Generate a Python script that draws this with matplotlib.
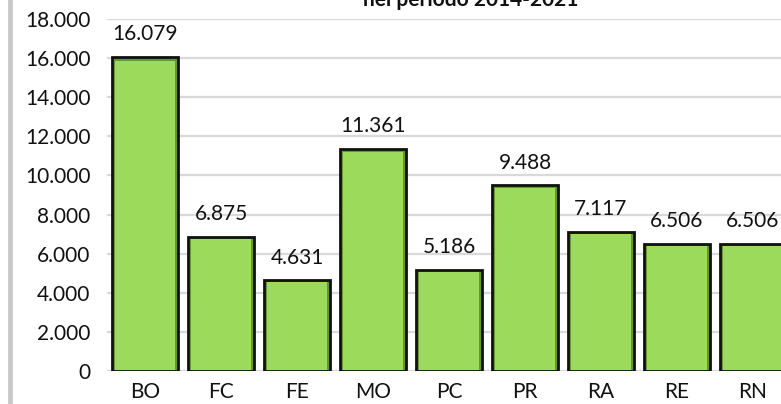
import matplotlib
matplotlib.use("Agg")
import matplotlib.pyplot as plt
from matplotlib.lines import Line2D

# data
categories = ["BO", "FC", "FE", "MO", "PC", "PR", "RA", "RE", "RN"]
values = [16079, 6875, 4631, 11361, 5186, 9488, 7117, 6506, 6506]
labels = ["16.079", "6.875", "4.631", "11.361", "5.186", "9.488", "7.117", "6.506", "6.506"]
yticks = [0, 2000, 4000, 6000, 8000, 10000, 12000, 14000, 16000, 18000]
yticklabels = ["0", "2.000", "4.000", "6.000", "8.000", "10.000", "12.000", "14.000", "16.000", "18.000"]

plt.rcParams['font.family'] = ['Lato', 'DejaVu Sans']

fig = plt.figure(figsize=(7.81, 4.04), dpi=100)
ax = fig.add_axes([107/781, 33/404, 684/781, 352/404])

x = list(range(len(categories)))
# darker rim, lighter face, black outline -> rough bevel look
ax.bar(x, values, width=0.86, color="#5f9a2c", edgecolor="none", zorder=3)
ax.bar(x, [v * 0.985 for v in values], width=0.78, color="#9bda5a", edgecolor="none", zorder=4)
ax.bar(x, values, width=0.86, color="none", edgecolor="#111111", linewidth=2, zorder=5)

for xi, v, lab in zip(x, values, labels):
    ax.annotate(lab, (xi, v), xytext=(0, 9), textcoords="offset points",
                ha="center", va="bottom", fontsize=15, color="#111111", zorder=6)

ax.set_xlim(-0.5, len(categories) - 0.5)
ax.set_ylim(0, 18000)
ax.set_yticks(yticks)
ax.set_yticklabels(yticklabels, fontsize=15)
ax.set_xticks(x)
ax.set_xticklabels(categories, fontsize=15)
ax.tick_params(axis="both", length=0, pad=8, colors="#111111")
ax.tick_params(axis="y", pad=12)
ax.yaxis.grid(True, color="#d9d9d9", linewidth=1.6, zorder=0)
ax.set_axisbelow(True)
for s in ax.spines.values():
    s.set_visible(False)

# title, mostly cropped at the top like in the source
fig.text(471/781, 1 - 6/404, "nel periodo 2014-2021", ha="center", va="baseline",
         fontsize=15, fontweight="bold", color="#111111")

# grey frame edge on the left
fig.add_artist(Line2D([10/781, 10/781], [0, 1], color="#c8c8c8", linewidth=3.5))

fig.savefig("out.png", dpi=100)
